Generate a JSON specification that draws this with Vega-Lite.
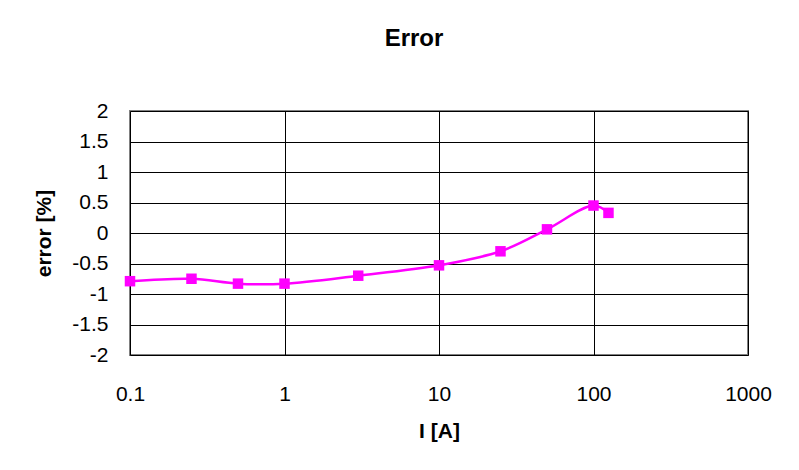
{
  "$schema": "https://vega.github.io/schema/vega-lite/v6.json",
  "autosize": {"type": "none"},
  "width": 618,
  "height": 244,
  "padding": {"left": 130, "top": 111, "right": 51, "bottom": 115},
  "background": "white",
  "title": {
    "text": "Error",
    "font": "Liberation Sans",
    "fontSize": 24,
    "fontWeight": "bold",
    "color": "black",
    "anchor": "middle",
    "dx": -25,
    "offset": 49
  },
  "data": {
    "values": [
      {"I": 0.1, "error": -0.79},
      {"I": 0.25, "error": -0.75},
      {"I": 0.5, "error": -0.83},
      {"I": 1, "error": -0.83},
      {"I": 3, "error": -0.70},
      {"I": 10, "error": -0.53},
      {"I": 25, "error": -0.30},
      {"I": 50, "error": 0.06},
      {"I": 100, "error": 0.45},
      {"I": 125, "error": 0.33}
    ]
  },
  "encoding": {
    "x": {
      "field": "I",
      "type": "quantitative",
      "scale": {"type": "log", "domain": [0.1, 1000], "nice": false},
      "axis": {
        "title": "I [A]",
        "values": [0.1, 1, 10, 100, 1000],
        "labelExpr": "toString(datum.value)",
        "labelFlush": false,
        "grid": true,
        "gridColor": "black",
        "gridWidth": 1,
        "gridOpacity": 1,
        "domain": false,
        "ticks": false,
        "labelPadding": 28,
        "labelFont": "Liberation Sans",
        "labelFontSize": 21,
        "labelColor": "black",
        "titleFont": "Liberation Sans",
        "titleFontSize": 21,
        "titleFontWeight": "bold",
        "titleColor": "black",
        "titlePadding": 16
      }
    },
    "y": {
      "field": "error",
      "type": "quantitative",
      "scale": {"domain": [-2, 2], "nice": false, "zero": false},
      "axis": {
        "title": "error [%]",
        "values": [-2, -1.5, -1, -0.5, 0, 0.5, 1, 1.5, 2],
        "labelExpr": "toString(datum.value)",
        "labelFlush": false,
        "grid": true,
        "gridColor": "black",
        "gridWidth": 1,
        "gridOpacity": 1,
        "domain": false,
        "ticks": false,
        "labelPadding": 22,
        "labelFont": "Liberation Sans",
        "labelFontSize": 21,
        "labelColor": "black",
        "titleFont": "Liberation Sans",
        "titleFontSize": 21,
        "titleFontWeight": "bold",
        "titleColor": "black",
        "titlePadding": 17
      }
    }
  },
  "layer": [
    {
      "mark": {"type": "line", "interpolate": "catmull-rom", "color": "#FF00FF", "strokeWidth": 2.5}
    },
    {
      "mark": {"type": "square", "color": "#FF00FF", "filled": true, "opacity": 1, "size": 110}
    }
  ],
  "config": {
    "view": {"stroke": "#808080", "strokeWidth": 2}
  }
}
